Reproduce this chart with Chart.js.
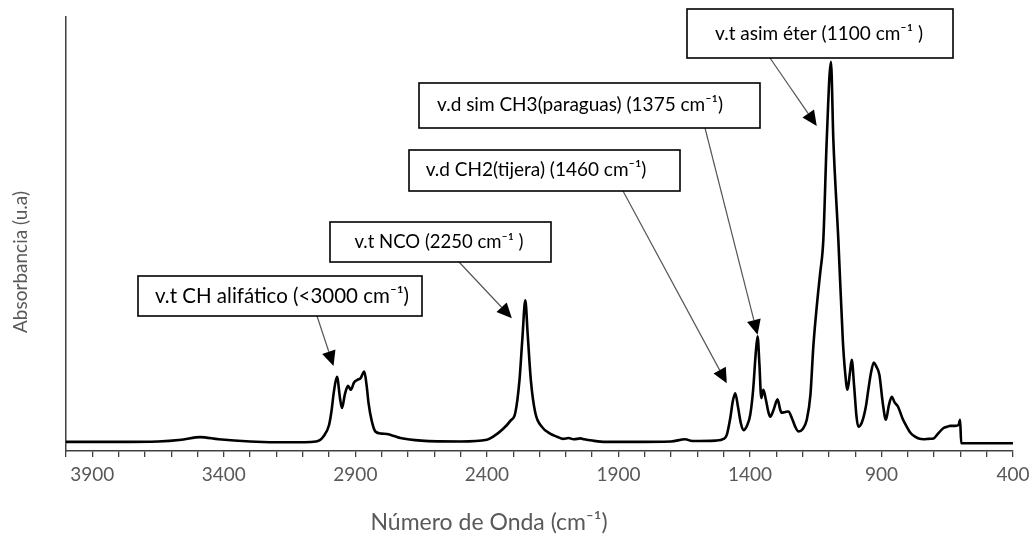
<!DOCTYPE html>
<html>
<head>
<meta charset="utf-8">
<script src="https://cdn.jsdelivr.net/npm/chart.js@4.4.0/dist/chart.umd.min.js"></script>
<style>
  html, body { margin: 0; padding: 0; background: #fff; }
  #wrap { width: 1036px; height: 540px; }
</style>
</head>
<body>
<div id="wrap"><canvas id="ftirChart" width="1036" height="540"></canvas></div>
<script>
// FTIR spectrum (wavenumber in cm-1, absorbance in u.a.)
const wavenumber = [
  4000, 3800, 3650, 3560, 3490, 3420, 3300, 3150, 3050, 3022,
  3000, 2990, 2982, 2970, 2958, 2951, 2940, 2928, 2917, 2905,
  2892, 2880, 2866, 2857, 2850, 2838, 2824, 2800, 2780, 2750,
  2729, 2650, 2500, 2400, 2376, 2340, 2310, 2292, 2276, 2265,
  2254, 2245, 2233, 2216, 2190, 2160, 2134, 2110, 2090, 2070,
  2044, 2030, 2000, 1950, 1850, 1700, 1646, 1620, 1530, 1500,
  1488, 1475, 1465, 1456, 1445, 1435, 1425, 1410, 1399, 1388,
  1378, 1371, 1364, 1357, 1349, 1340, 1330, 1323, 1310, 1295,
  1285, 1279, 1265, 1254, 1240, 1228, 1215, 1200, 1184, 1170,
  1159, 1146, 1140, 1133, 1121, 1108, 1092, 1083, 1064, 1047,
  1038, 1029, 1020, 1013, 1004, 995, 988, 975, 960, 950,
  940, 929, 920, 908, 895, 883, 872, 861, 850, 837,
  820, 804, 790, 772, 755, 740, 720, 702, 685, 664,
  650, 639, 620, 607, 601, 597, 400
];
const absorbance = [
  0.021, 0.021, 0.022, 0.026, 0.032, 0.027, 0.022, 0.020, 0.022, 0.033,
  0.060, 0.095, 0.135, 0.171, 0.120, 0.099, 0.130, 0.150, 0.141, 0.158,
  0.164, 0.168, 0.183, 0.150, 0.111, 0.070, 0.045, 0.040, 0.039, 0.034,
  0.030, 0.024, 0.022, 0.026, 0.033, 0.050, 0.070, 0.088, 0.164, 0.260,
  0.347, 0.270, 0.164, 0.088, 0.055, 0.040, 0.033, 0.028, 0.030, 0.027,
  0.029, 0.027, 0.024, 0.021, 0.021, 0.022, 0.027, 0.023, 0.024, 0.028,
  0.037, 0.075, 0.115, 0.133, 0.100, 0.065, 0.048, 0.060, 0.083, 0.140,
  0.225, 0.264, 0.200, 0.122, 0.141, 0.120, 0.090, 0.079, 0.095, 0.119,
  0.095, 0.088, 0.090, 0.091, 0.075, 0.056, 0.045, 0.050, 0.072, 0.130,
  0.241, 0.333, 0.370, 0.410, 0.487, 0.718, 0.897, 0.718, 0.487, 0.256,
  0.180, 0.141, 0.180, 0.210, 0.150, 0.080, 0.056, 0.065, 0.100, 0.141,
  0.180, 0.204, 0.195, 0.176, 0.110, 0.072, 0.105, 0.125, 0.112, 0.102,
  0.075, 0.056, 0.042, 0.033, 0.028, 0.027, 0.028, 0.029, 0.040, 0.053,
  0.056, 0.058, 0.058, 0.060, 0.072, 0.018, 0.018
];
const majorTicks = [3900, 3400, 2900, 2400, 1900, 1400, 900, 400];
const xTitle = 'Número de Onda (cm\u207B\u00B9)';
const yTitle = 'Absorbancia (u.a)';

// band assignments and the point each arrow points at
const bandLabels = [
  'v.t CH alifático (<3000 cm\u207B\u00B9)',
  'v.t NCO (2250 cm\u207B\u00B9 )',
  'v.d CH2(tijera) (1460 cm\u207B\u00B9)',
  'v.d sim CH3(paraguas) (1375 cm\u207B\u00B9)',
  'v.t asim éter (1100 cm\u207B\u00B9 )'
];
const bandTargetX = [2983, 2305, 1488, 1371, 1146];
const bandTargetY = [0.196, 0.306, 0.156, 0.268, 0.749];

// callout boxes (layout only): box rect, text centre and size, arrow start
const boxLayout = [
  { x: 138, y: 276, w: 284, h: 40, tx: 282, ty: 296, fs: 20.5, ax: 317, ay: 316 },
  { x: 330, y: 222, w: 221, h: 40, tx: 439, ty: 242, fs: 18.5, ax: 459, ay: 262 },
  { x: 409, y: 150, w: 271, h: 41, tx: 536, ty: 170, fs: 19, ax: 623, ay: 191 },
  { x: 419, y: 83, w: 341, h: 45, tx: 580, ty: 105, fs: 19, ax: 705, ay: 128 },
  { x: 687, y: 9, w: 266, h: 49, tx: 819, ty: 34, fs: 19, ax: 770, ay: 58 }
];

const minorTicks = [];
for (let v = 4000; v >= 400; v -= 100) minorTicks.push(v);

const FONT = 'Lato, "Open Sans", sans-serif';

const calloutPlugin = {
  id: 'callouts',
  afterDatasetsDraw(chart) {
    const ctx = chart.ctx;
    const xs = chart.scales.x, ys = chart.scales.y;
    ctx.save();
    boxLayout.forEach(function(b, i) {
      const tipX = xs.getPixelForValue(bandTargetX[i]);
      const tipY = ys.getPixelForValue(bandTargetY[i]);
      const ang = Math.atan2(tipY - b.ay, tipX - b.ax);
      const len = 15, half = 7;
      const baseX = tipX - len * Math.cos(ang), baseY = tipY - len * Math.sin(ang);
      // shaft
      ctx.strokeStyle = '#555';
      ctx.lineWidth = 1.2;
      ctx.beginPath();
      ctx.moveTo(b.ax, b.ay);
      ctx.lineTo(baseX, baseY);
      ctx.stroke();
      // head
      ctx.fillStyle = '#000';
      ctx.beginPath();
      ctx.moveTo(tipX, tipY);
      ctx.lineTo(baseX + half * Math.sin(ang), baseY - half * Math.cos(ang));
      ctx.lineTo(baseX - half * Math.sin(ang), baseY + half * Math.cos(ang));
      ctx.closePath();
      ctx.fill();
      // box
      ctx.fillStyle = '#fff';
      ctx.fillRect(b.x, b.y, b.w, b.h);
      ctx.strokeStyle = '#000';
      ctx.lineWidth = 1.6;
      ctx.strokeRect(b.x, b.y, b.w, b.h);
      // text
      ctx.fillStyle = '#000';
      ctx.font = b.fs + 'px ' + FONT;
      ctx.textAlign = 'center';
      ctx.textBaseline = 'middle';
      ctx.fillText(bandLabels[i], b.tx, b.ty);
    });
    ctx.restore();
  },
  afterDraw(chart) {
    // axis titles sit off-centre in the original, so they are placed by hand
    const ctx = chart.ctx;
    ctx.save();
    ctx.fillStyle = '#595959';
    ctx.textAlign = 'center';
    ctx.textBaseline = 'middle';
    ctx.font = '23px ' + FONT;
    ctx.fillText(xTitle, 489, 523);
    ctx.translate(21, 262);
    ctx.rotate(-Math.PI / 2);
    ctx.font = '19px ' + FONT;
    ctx.fillText(yTitle, 0, 0);
    ctx.restore();
  }
};

const ctx = document.getElementById('ftirChart');
const chart = new Chart(ctx.getContext('2d'), {
  type: 'line',
  data: {
    datasets: [{
      data: wavenumber.map(function(w, i) { return { x: w, y: absorbance[i] }; }),
      borderColor: '#000',
      borderWidth: 2.6,
      pointRadius: 0,
      cubicInterpolationMode: 'monotone',
      fill: false
    }]
  },
  options: {
    responsive: false,
    animation: false,
    layout: { padding: { top: 17, right: 23, left: 0, bottom: 0 } },
    plugins: {
      legend: { display: false },
      tooltip: { enabled: false }
    },
    scales: {
      x: {
        type: 'linear',
        reverse: true,
        min: 400,
        max: 4000,
        afterBuildTicks: function(s) {
          s.ticks = minorTicks.map(function(v) { return { value: v }; });
        },
        afterFit: function(s) {
          s.height = 89;
          s.paddingLeft = 0;
          s.paddingRight = 0;
        },
        ticks: {
          autoSkip: false,
          maxRotation: 0,
          color: '#595959',
          padding: 6,
          font: { family: FONT, size: 19 },
          callback: function(v) { return majorTicks.includes(v) ? String(v) : ''; }
        },
        grid: { drawOnChartArea: false, drawTicks: true, tickLength: 6, color: '#404040', lineWidth: 1.3 },
        border: { color: '#404040', width: 1.5 }
      },
      y: {
        min: 0,
        max: 1,
        afterFit: function(s) {
          s.width = 66;
          s.paddingTop = 0;
          s.paddingBottom = 0;
        },
        ticks: { display: false },
        grid: { display: false, drawTicks: false },
        border: { color: '#404040', width: 1.5 }
      }
    }
  },
  plugins: [calloutPlugin]
});
</script>
</body>
</html>
